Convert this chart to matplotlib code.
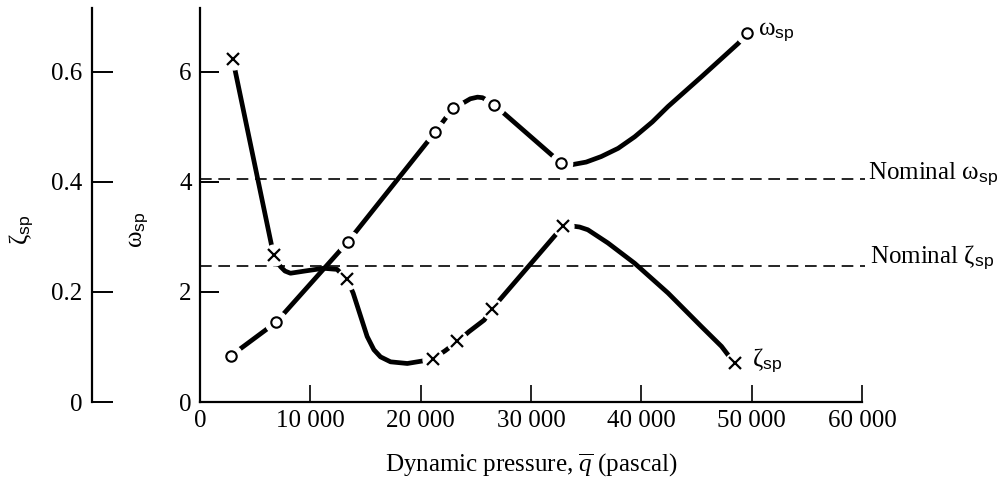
import matplotlib.pyplot as plt
from matplotlib.ticker import FuncFormatter

# Short-period frequency and damping vs dynamic pressure
omega_q = [2800, 6900, 13400, 21300, 22970, 26670, 32730, 49550]
omega_val = [0.84, 1.45, 2.91, 4.90, 5.35, 5.40, 4.34, 6.70]

# points
omega_curve_q = [2800, 6900, 13400, 21300, 22970, 23900, 24500, 25150, 25600, 26060, 26670,
                 32730, 33640, 35000, 36360, 37900, 39400, 41000, 42420, 45450, 48800, 49550]
omega_curve_val = [0.84, 1.45, 2.91, 4.90, 5.35, 5.44, 5.51, 5.54, 5.53, 5.48, 5.40,
                   4.34, 4.31, 4.36, 4.46, 4.61, 4.82, 5.09, 5.37, 5.91, 6.52, 6.70]

zeta_q = [2970, 6670, 13330, 21150, 23330, 26450, 32880, 48450]
zeta_val = [0.623, 0.267, 0.223, 0.079, 0.110, 0.169, 0.319, 0.070]

# points
zeta_curve_q = [2970, 6670, 7300, 7700, 8200, 9500, 11200, 12420, 13330, 13880, 15150,
                15760, 16360, 17270, 18790, 20300, 21150, 22210, 23330, 24390, 25760,
                26450, 32880, 33640, 34400, 35150, 36970, 39400, 42420, 45450, 47270, 48450]
zeta_curve_val = [0.623, 0.267, 0.246, 0.238, 0.234, 0.238, 0.243, 0.241, 0.223, 0.198, 0.119,
                  0.095, 0.082, 0.073, 0.070, 0.075, 0.079, 0.093, 0.110, 0.128, 0.149,
                  0.169, 0.319, 0.320, 0.318, 0.313, 0.289, 0.252, 0.198, 0.137, 0.101, 0.070]

nominal_omega = 4.05
nominal_zeta = 0.247

x_ticks = [0, 10000, 20000, 30000, 40000, 50000, 60000]
omega_ticks = [0, 2, 4, 6]
zeta_ticks = [0, 0.2, 0.4, 0.6]

plt.rcParams['font.family'] = 'Liberation Serif'
plt.rcParams['mathtext.fontset'] = 'custom'
plt.rcParams['mathtext.rm'] = 'Liberation Serif'
plt.rcParams['mathtext.it'] = 'Liberation Serif:italic'
plt.rcParams['mathtext.sf'] = 'Liberation Sans'
plt.rcParams['font.size'] = 18

W_LABEL = r'$\mathrm{\omega}_{\mathsf{sp}}$'
Z_LABEL = r'$\mathrm{\zeta}_{\mathsf{sp}}$'

fig = plt.figure(figsize=(10.02, 4.94), dpi=100)
ax = fig.add_axes([200 / 1002, 92 / 494, 662 / 1002, 394 / 494])
ax.set_xlim(0, 60000)
ax.set_ylim(0, 7.16)

# zeta is drawn on a twin axis with one tenth of the omega scale
axz = ax.twinx()
axz.set_ylim(0, 0.716)
for s in axz.spines.values():
    s.set_visible(False)
axz.set_yticks([])

for s in ['top', 'right']:
    ax.spines[s].set_visible(False)
for s in ['left', 'bottom']:
    ax.spines[s].set_linewidth(1.6)

ax.set_xticks(x_ticks)
ax.xaxis.set_major_formatter(FuncFormatter(lambda v, p: f'{int(v):,}'.replace(',', ' ')))
ax.set_yticks(omega_ticks)
ax.tick_params(axis='y', direction='in', length=14, width=1.4, pad=6)
ax.tick_params(axis='x', direction='in', length=12, width=1.2, pad=6)

# nominal lines
ax.plot([0, 60300], [nominal_omega, nominal_omega], color='black', lw=1.2,
        dashes=(7, 4), clip_on=False)
axz.plot([0, 60300], [nominal_zeta, nominal_zeta], color='black', lw=1.2,
         dashes=(7, 4), clip_on=False)
ax.text(60500, nominal_omega + 0.08, 'Nominal ' + W_LABEL, va='center', ha='left')
axz.text(60700, nominal_zeta + 0.015, 'Nominal ' + Z_LABEL, va='center', ha='left')

# curves, with white masks to leave a gap round each marker
ax.plot(omega_curve_q, omega_curve_val, color='black', lw=3.4,
        solid_capstyle='round', solid_joinstyle='round', zorder=3)
ax.plot(omega_q, omega_val, 'o', ms=16, color='white', zorder=4)
ax.plot(omega_q, omega_val, 'o', ms=7.5, mfc='white', mec='black', mew=1.5, zorder=5)

axz.plot(zeta_curve_q, zeta_curve_val, color='black', lw=3.4,
         solid_capstyle='round', solid_joinstyle='round', zorder=3)
axz.plot(zeta_q, zeta_val, 'o', ms=15, color='white', zorder=4)
axz.plot(zeta_q, zeta_val, 'x', ms=9, color='black', mew=1.6, zorder=5)

ax.text(50600, 6.72, W_LABEL, va='center', ha='left')
axz.text(50000, 0.075, Z_LABEL, va='center', ha='left')

ax.set_xlabel(r'Dynamic pressure, $\overline{q}$ (pascal)', labelpad=14)
ax.set_ylabel(W_LABEL, rotation=90)
ax.yaxis.set_label_coords(-0.074, 0.437)

# separate zeta scale on the far left
axl = fig.add_axes([92 / 1002, 92 / 494, 0.0005, 394 / 494])
axl.set_ylim(0, 0.716)
axl.set_xticks([])
axl.set_yticks(zeta_ticks)
axl.set_yticklabels(['0', '0.2', '0.4', '0.6'])
for s in ['top', 'right', 'bottom']:
    axl.spines[s].set_visible(False)
axl.spines['left'].set_linewidth(1.6)
axl.tick_params(axis='y', direction='in', length=15, width=1.4, pad=7)
fig.text(22 / 1002, (494 - 230) / 494, Z_LABEL, rotation=90, ha='center', va='center')

fig.savefig('out.png', dpi=100)
